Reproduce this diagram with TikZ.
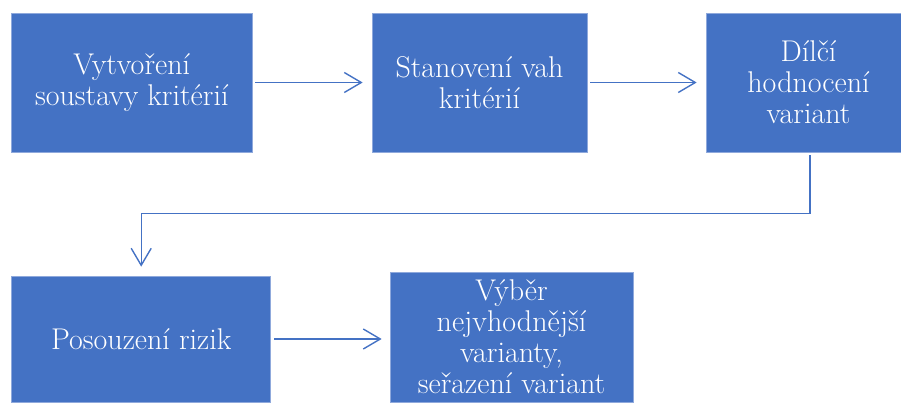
\documentclass[tikz,border=0pt]{standalone}
\usepackage{fontspec}
\usetikzlibrary{arrows.meta}
\definecolor{boxblue}{HTML}{4472C4}
\definecolor{edgeblue}{HTML}{8FA9DC}
\begin{document}
\begin{tikzpicture}[x=1pt,y=-1pt,
  box/.style={rectangle, fill=boxblue, draw=edgeblue, line width=0.7pt, text=white,
    align=center, inner sep=0pt, font=\rmfamily\fontsize{30pt}{31pt}\selectfont},
  arr/.style={draw=boxblue, line width=1.4pt,
    -{Straight Barb[length=17pt,width=20pt,line width=1.4pt]}}]
\useasboundingbox (0,0) rectangle (901,402);
\node[box, minimum width=240.5pt, minimum height=139pt] (b1) at (131.75,82.5) {Vytvoření\\soustavy kritérií};
\node[box, minimum width=215pt, minimum height=139pt] (b2) at (479.5,82.5) {Stanovení vah\\kritérií};
\node[box, minimum width=205pt, minimum height=139pt] (b3) at (808.5,82.5) {Dílčí\\hodnocení\\variant};
\node[box, minimum width=259pt, minimum height=126pt] (b4) at (141.2,339) {Posouzení rizik};
\node[box, minimum width=243pt, minimum height=130pt] (b5) at (511.5,337) {Výběr\\nejvhodnější\\varianty,\\seřazení variant};
\draw[arr, shorten <=3pt, shorten >=9pt] (b1.east) -- (b2.west);
\draw[arr, shorten <=3pt, shorten >=9pt] (b2.east) -- (b3.west);
\draw[arr, shorten <=3pt, shorten >=9pt] ([xshift=1.5pt]b3.south) -- ++(0,61) -| (b4.north);
\draw[arr, shorten <=3pt, shorten >=8pt] (b4.east) -- (b5.west |- b4.east);
\end{tikzpicture}
\end{document}
